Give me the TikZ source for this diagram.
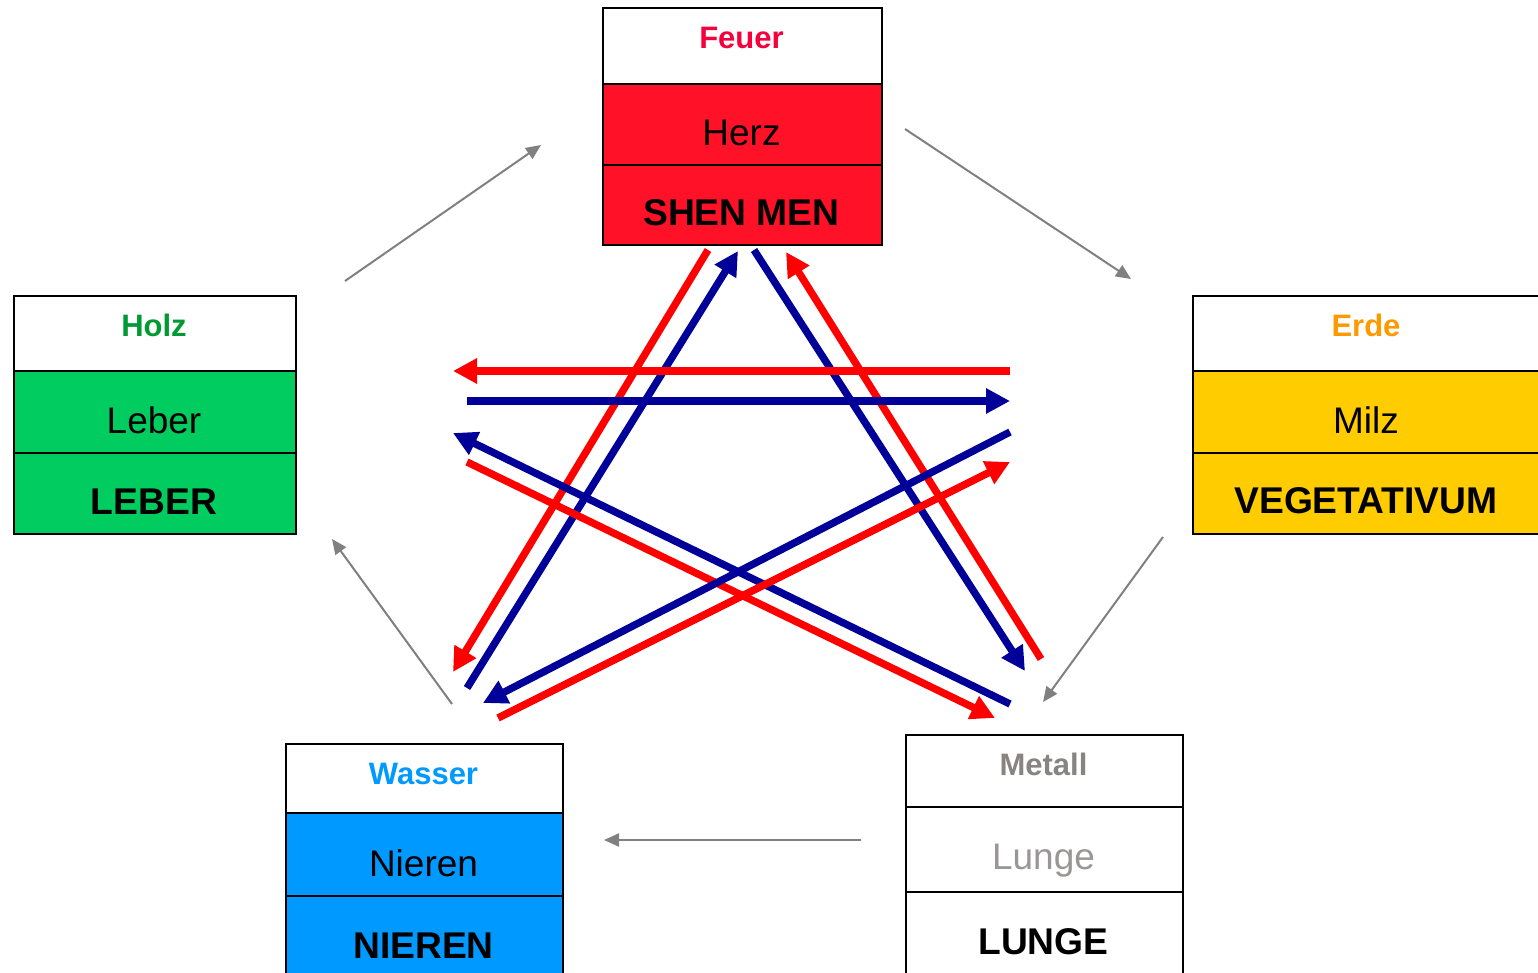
\documentclass[tikz,border=0pt]{standalone}
\usepackage{fontspec}
\setmainfont{Liberation Sans}
\usetikzlibrary{arrows.meta}

\definecolor{feuerrot}{RGB}{255,17,40}
\definecolor{feuertext}{RGB}{245,0,60}
\definecolor{holzgruen}{RGB}{0,204,95}
\definecolor{holztext}{RGB}{0,153,51}
\definecolor{erdgelb}{RGB}{255,204,0}
\definecolor{erdtext}{RGB}{255,153,0}
\definecolor{wasserblau}{RGB}{0,153,255}
\definecolor{metallgrau}{RGB}{135,132,130}
\definecolor{pfeilblau}{RGB}{0,0,153}

\begin{document}
\begin{tikzpicture}[x=0.5pt, y=-0.5pt,
    row/.style={draw=black, line width=1pt, anchor=north west, inner sep=0pt},
    title/.style={anchor=base, font=\fontsize{15.5}{18}\selectfont\bfseries},
    organ/.style={anchor=base, font=\fontsize{18.5}{22}\selectfont},
    system/.style={anchor=base, font=\fontsize{18.6}{22}\selectfont\bfseries},
    rot/.style={draw=red, line width=3.7pt, -{Triangle[length=12pt,width=12pt]}},
    blau/.style={draw=pfeilblau, line width=3.7pt, -{Triangle[length=12pt,width=12pt]}},
    grau/.style={draw=gray, line width=1pt, -{Triangle[length=7.5pt,width=6.5pt]}}]

    \useasboundingbox (0,0) rectangle (1538,973);

    % Feuer
    \node[row, minimum width=139.5pt, minimum height=38pt] (feuer-t) at (601.5,7.5) {};
    \node[row, fill=feuerrot, minimum width=139.5pt, minimum height=40.5pt] (feuer-m) at (601.5,83.5) {};
    \node[row, fill=feuerrot, minimum width=139.5pt, minimum height=40pt] (feuer-b) at (601.5,164.5) {};
    \node[title, text=feuertext] (feuer) at (741.5,49) {Feuer};
    \node[organ] (herz) at (741.5,146) {Herz};
    \node[system] (shenmen) at (741.5,226) {SHEN MEN};

    % Holz
    \node[row, minimum width=141pt, minimum height=37.5pt] (holz-t) at (12.5,295.5) {};
    \node[row, fill=holzgruen, minimum width=141pt, minimum height=40.5pt] (holz-m) at (12.5,370.5) {};
    \node[row, fill=holzgruen, minimum width=141pt, minimum height=40.5pt] (holz-b) at (12.5,451.5) {};
    \node[title, text=holztext] (holz) at (154,337) {Holz};
    \node[organ] (leber) at (154,434) {Leber};
    \node[system] (leber2) at (154,514) {LEBER};

    % Erde
    \node[row, minimum width=180pt, minimum height=37.5pt] (erde-t) at (1191.5,295.5) {};
    \node[row, fill=erdgelb, minimum width=180pt, minimum height=40.5pt] (erde-m) at (1191.5,370.5) {};
    \node[row, fill=erdgelb, minimum width=180pt, minimum height=40.5pt] (erde-b) at (1191.5,451.5) {};
    \node[title, text=erdtext] (erde) at (1366,337) {Erde};
    \node[organ] (milz) at (1366,434) {Milz};
    \node[system] (vegetativum) at (1366,513) {VEGETATIVUM};

    % Wasser
    \node[row, minimum width=138.5pt, minimum height=34.5pt] (wasser-t) at (284.5,742.5) {};
    \node[row, fill=wasserblau, minimum width=138.5pt, minimum height=41.5pt] (wasser-m) at (284.5,811.5) {};
    \node[row, fill=wasserblau, minimum width=138.5pt, minimum height=45pt] (wasser-b) at (284.5,894.5) {};
    \node[title, text=wasserblau] (wasser) at (423.5,784) {Wasser};
    \node[organ] (nieren) at (423.5,876) {Nieren};
    \node[system] (nieren2) at (423.5,958) {NIEREN};

    % Metall
    \node[row, minimum width=138.5pt, minimum height=36pt] (metall-t) at (904.5,733.5) {};
    \node[row, minimum width=138.5pt, minimum height=42.5pt] (metall-m) at (904.5,805.5) {};
    \node[row, minimum width=138.5pt, minimum height=45pt] (metall-b) at (904.5,890.5) {};
    \node[title, text=metallgrau] (metall) at (1043.5,775) {Metall};
    \node[organ, text=metallgrau!85] (lunge) at (1043.5,869) {Lunge};
    \node[system] (lunge2) at (1043.5,954) {LUNGE};

    % Ends of the arrows
    \coordinate (g1a) at (345,281);  \coordinate (g1b) at (541,145);
    \coordinate (g2a) at (905,129);  \coordinate (g2b) at (1131,279);
    \coordinate (g3a) at (1163,537); \coordinate (g3b) at (1043,702);
    \coordinate (g4a) at (861,840);  \coordinate (g4b) at (604,840);
    \coordinate (g5a) at (452,704);  \coordinate (g5b) at (332,539);

    \coordinate (r1a) at (1010,371); \coordinate (r1b) at (453,371);
    \coordinate (b1a) at (467,401);  \coordinate (b1b) at (1010,401);
    \coordinate (b2a) at (1010,432); \coordinate (b2b) at (483,703);
    \coordinate (b3a) at (1010,704); \coordinate (b3b) at (453,433);
    \coordinate (r2a) at (467,462);  \coordinate (r2b) at (995,718);
    \coordinate (r3a) at (498,718);  \coordinate (r3b) at (1010,462);
    \coordinate (r4a) at (708,250);  \coordinate (r4b) at (453,672);
    \coordinate (b4a) at (467,688);  \coordinate (b4b) at (738,251);
    \coordinate (b5a) at (754,250);  \coordinate (b5b) at (1025,671);
    \coordinate (r5a) at (1041,659); \coordinate (r5b) at (786,252);

    % Cycle
    \draw[grau] (g1a) -- (g1b);
    \draw[grau] (g2a) -- (g2b);
    \draw[grau] (g3a) -- (g3b);
    \draw[grau] (g4a) -- (g4b);
    \draw[grau] (g5a) -- (g5b);

    % Star
    \draw[rot] (r4a) -- (r4b);
    \draw[blau] (b4a) -- (b4b);
    \draw[blau] (b5a) -- (b5b);
    \draw[rot] (r5a) -- (r5b);
    \draw[blau] (b3a) -- (b3b);
    \draw[rot] (r2a) -- (r2b);
    \draw[blau] (b2a) -- (b2b);
    \draw[rot] (r3a) -- (r3b);
    \draw[rot] (r1a) -- (r1b);
    \draw[blau] (b1a) -- (b1b);
\end{tikzpicture}
\end{document}
